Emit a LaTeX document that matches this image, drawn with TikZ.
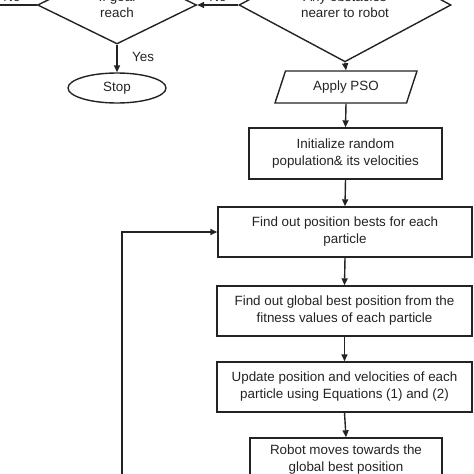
\documentclass[tikz,border=0pt]{standalone}
\usepackage{fontspec}
\setmainfont{Liberation Sans}
\usetikzlibrary{shapes.geometric,arrows.meta}
\definecolor{ink}{RGB}{35,35,35}
\begin{document}
\begin{tikzpicture}[x=1pt,y=-1pt,
  every node/.style={font=\fontsize{13.4}{17}\selectfont, text=ink},
  boxstyle/.style={draw=ink, line width=1.4pt, rectangle, inner sep=0pt, align=center},
  decision/.style={draw=ink, line width=1.4pt, diamond, inner sep=0pt, align=center},
  ioshape/.style={draw=ink, line width=1.4pt, trapezium, trapezium left angle=50, trapezium right angle=130, trapezium stretches body, inner sep=0pt},
  termshape/.style={draw=ink, line width=1.4pt, ellipse, inner sep=0pt},
  flow/.style={draw=ink, line width=1.4pt, -{Triangle[length=7pt,width=6pt]}},
  plain/.style={draw=ink, line width=1.4pt},
  lbl/.style={inner sep=0pt}
]
\path[use as bounding box] (0,0) rectangle (474,474);
\clip (0,0) rectangle (474,474);

\node[decision, minimum width=159pt, minimum height=78pt] (ldia) at (117,5) {If goal\\[-1pt]reach};
\node[decision, minimum width=212pt, minimum height=78pt] (rdia) at (345,5) {Any obstacles\\[-1pt]nearer to robot};
\node[termshape, minimum width=98pt, minimum height=30pt] (stop) at (117,88) {Stop};
\node[ioshape, minimum width=142pt, minimum height=32pt] (pso) at (346,87) {Apply  PSO};
\node[boxstyle, minimum width=193pt, minimum height=51pt] (init) at (345.5,153.5) {Initialize  random\\population\&  its velocities};
\node[boxstyle, minimum width=254pt, minimum height=50pt] (find) at (345,232) {Find  out position bests for each\\particle};
\node[boxstyle, minimum width=255pt, minimum height=50pt] (glob) at (344.5,311) {Find  out global  best position  from the\\fitness values  of each particle};
\node[boxstyle, minimum width=255pt, minimum height=50pt] (upd) at (344.5,387) {Update position and velocities of each\\particle using Equations  (1) and (2)};
\node[boxstyle, minimum width=192pt, minimum height=44pt] (robot) at (346,460) {Robot moves towards the\\global  best position};

\node[lbl, anchor=west] (yes) at (132,57) {Yes};
\node[lbl, anchor=south] (noL) at (12,2) {No};
\node[lbl, anchor=south] (noR) at (218,2) {No};

\coordinate (leftend) at (-2,5);
\coordinate (loopb) at (122,490);

\draw[flow] (ldia.south) -- (stop.north);
\draw[plain] (ldia.west) -- (leftend);
\draw[flow] (rdia.west) -- (ldia.east);
\draw[flow] (rdia.south) -- (pso.north);
\draw[flow] (pso.south) -- (init.north);
\draw[flow] (init.south) -- (find.north);
\draw[flow] (find.south) -- (glob.north);
\draw[flow] (glob.south) -- (upd.north);
\draw[flow] (upd.south) -- (robot.north);
\draw[flow] (loopb) |- (find.west);
\end{tikzpicture}
\end{document}
